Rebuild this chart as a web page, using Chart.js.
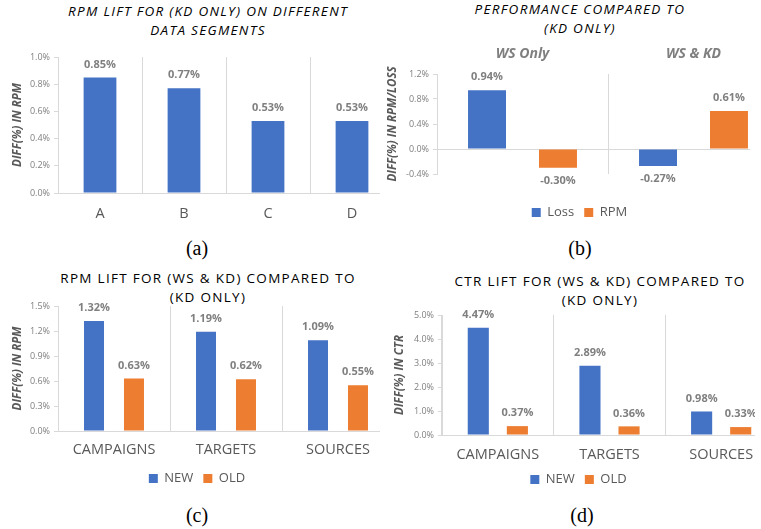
<!DOCTYPE html>
<html>
<head>
<meta charset="utf-8">
<script src="https://cdn.jsdelivr.net/npm/chart.js@4.4.1/dist/chart.umd.min.js"></script>
<style>
  html, body { margin: 0; padding: 0; overflow: hidden; background: #fff; }
  body { position: relative; width: 761px; height: 529px; font-family: "Open Sans", sans-serif; }
  .panel { position: absolute; overflow: hidden; }
  .panel canvas { position: absolute; left: 0; top: 0; }
  .title { position: absolute; width: 420px; text-align: center; font-size: 13.5px; line-height: 19px;
           letter-spacing: 1.3px; color: #000; white-space: nowrap; }
  .title.it { font-style: italic; }
  .cap { position: absolute; width: 60px; text-align: center; font-family: "Liberation Serif", serif;
         font-size: 20px; line-height: 24px; color: #000; }
</style>
</head>
<body>

<div class="title it" style="left:-2px; top:2px;">RPM LIFT FOR (KD ONLY) ON DIFFERENT<br>DATA SEGMENTS</div>
<div class="title it" style="left:370px; top:0px;">PERFORMANCE COMPARED TO<br>(KD ONLY)</div>
<div class="title" style="left:-2px; top:269px;">RPM LIFT FOR (WS &amp; KD) COMPARED TO<br>(KD ONLY)</div>
<div class="title" style="left:390px; top:272px;">CTR LIFT FOR (WS &amp; KD) COMPARED TO<br>(KD ONLY)</div>

<div class="panel" style="left:0; top:0; width:380px; height:240px;"><canvas id="chartA" width="400" height="233"></canvas></div>
<div class="panel" style="left:380px; top:0; width:370px; height:240px;"><canvas id="chartB" width="422" height="229"></canvas></div>
<div class="panel" style="left:0; top:260px; width:380px; height:240px;"><canvas id="chartC" width="408" height="235"></canvas></div>
<div class="panel" style="left:380px; top:260px; width:375px; height:240px;"><canvas id="chartD" width="406" height="236"></canvas></div>

<div class="cap" style="left:167px; top:236px;">(a)</div>
<div class="cap" style="left:550px; top:236px;">(b)</div>
<div class="cap" style="left:167px; top:503px;">(c)</div>
<div class="cap" style="left:552px; top:503px;">(d)</div>

<script>
// (a) RPM lift for (KD only) per data segment
const segLabels = ['A', 'B', 'C', 'D'];
const segRpmLift = [0.85, 0.77, 0.53, 0.53];

// (b) performance compared to (KD only)
const perfLabels = ['WS Only', 'WS & KD'];
const perfLoss = [0.94, -0.27];
const perfRpm = [-0.30, 0.61];

// (c) and (d) lifts for (WS & KD) per group
const groupLabels = ['CAMPAIGNS', 'TARGETS', 'SOURCES'];
const rpmNew = [1.32, 1.19, 1.09];
const rpmOld = [0.63, 0.62, 0.55];
const ctrNew = [4.47, 2.89, 0.98];
const ctrOld = [0.37, 0.36, 0.33];

const BLUE = '#4472C4';
const ORANGE = '#ED7D31';
const GRID = '#d9d9d9';
const TICK = '#7f7f7f';
const LABEL = '#595959';
const FONT = '"Open Sans", sans-serif';

// value labels above (or below, for negatives) each bar
const valueLabels = {
  id: 'valueLabels',
  afterDatasetsDraw(chart) {
    const ctx = chart.ctx;
    ctx.save();
    ctx.font = 'bold 11px ' + FONT;
    ctx.fillStyle = TICK;
    ctx.textAlign = 'center';
    ctx.textBaseline = 'middle';
    chart.data.datasets.forEach((ds, i) => {
      chart.getDatasetMeta(i).data.forEach((bar, j) => {
        const v = ds.data[j];
        const y = v >= 0 ? bar.y - 13 : bar.y + 13;
        ctx.fillText(v.toFixed(2) + '%', bar.x, y);
      });
    });
    ctx.restore();
  }
};

function yScale(o) {
  return {
    min: o.min,
    max: o.max,
    afterFit(s) { s.width = o.width; },
    ticks: {
      stepSize: o.step,
      callback: v => v.toFixed(1) + '%',
      color: TICK,
      font: { size: 9, family: FONT },
      padding: 4
    },
    grid: {
      drawOnChartArea: !!o.zeroLine,
      color: o.zeroLine ? (c => (c.tick && Math.abs(c.tick.value) < 1e-9 ? GRID : 'rgba(0,0,0,0)')) : GRID,
      tickColor: GRID,
      tickLength: 4
    },
    border: { color: GRID },
    title: {
      display: true,
      text: o.title,
      color: LABEL,
      font: { size: 11.5, weight: 'bold', style: 'italic', family: FONT },
      padding: o.titlePad
    }
  };
}

function xScale(o) {
  return {
    position: o.position || 'bottom',
    afterFit(s) { s.height = o.height; },
    ticks: {
      color: o.color || LABEL,
      font: Object.assign({ size: 14.5, family: FONT }, o.font || {}),
      padding: o.pad,
      maxRotation: 0
    },
    grid: { offset: true, drawTicks: false, color: GRID },
    border: { display: o.border !== false, color: GRID }
  };
}

function legendOpts(show) {
  return {
    display: show,
    position: 'bottom',
    labels: {
      boxWidth: 9,
      boxHeight: 9,
      color: LABEL,
      font: { size: 13, family: FONT },
      padding: 10
    }
  };
}

function baseOptions(padding, scales, showLegend) {
  return {
    responsive: false,
    animation: false,
    devicePixelRatio: 1,
    layout: { padding },
    scales,
    plugins: {
      legend: legendOpts(showLegend),
      tooltip: { enabled: false }
    }
  };
}

// (a)
new Chart(document.getElementById('chartA'), {
  type: 'bar',
  data: {
    labels: segLabels,
    datasets: [{ label: 'RPM', data: segRpmLift, backgroundColor: BLUE, barPercentage: 0.39, categoryPercentage: 1 }]
  },
  options: baseOptions({ top: 57, right: 6, left: 0, bottom: 0 }, {
    x: xScale({ height: 40, pad: 12 }),
    y: yScale({ min: 0, max: 1.0, step: 0.2, width: 58, title: 'DIFF(%) IN RPM', titlePad: 11 })
  }, false),
  plugins: [valueLabels]
});

// (b)
const optsB = baseOptions({ top: 20, right: 23, left: 0, bottom: 0 }, {
  x: xScale({ position: 'top', height: 54, pad: 12, border: false, color: TICK,
              font: { weight: 'bold', style: 'italic', size: 14 } }),
  xb: {
    type: 'category',
    position: 'bottom',
    afterFit(s) { s.height = 22; },
    ticks: { display: false },
    grid: { display: false },
    border: { display: false }
  },
  y: yScale({ min: -0.4, max: 1.2, step: 0.4, width: 57, title: 'DIFF(%) IN RPM/LOSS', titlePad: 6, zeroLine: true })
}, true);
new Chart(document.getElementById('chartB'), {
  type: 'bar',
  data: {
    labels: perfLabels,
    datasets: [
      { label: 'Loss', data: perfLoss, backgroundColor: BLUE, barPercentage: 0.535, categoryPercentage: 0.83 },
      { label: 'RPM', data: perfRpm, backgroundColor: ORANGE, barPercentage: 0.535, categoryPercentage: 0.83 }
    ]
  },
  options: optsB,
  plugins: [valueLabels]
});

// (c)
new Chart(document.getElementById('chartC'), {
  type: 'bar',
  data: {
    labels: groupLabels,
    datasets: [
      { label: 'NEW', data: rpmNew, backgroundColor: BLUE, barPercentage: 0.5, categoryPercentage: 0.714 },
      { label: 'OLD', data: rpmOld, backgroundColor: ORANGE, barPercentage: 0.5, categoryPercentage: 0.714 }
    ]
  },
  options: baseOptions({ top: 46, right: 14, left: 0, bottom: 0 }, {
    x: xScale({ height: 31, pad: 10 }),
    y: yScale({ min: 0, max: 1.5, step: 0.3, width: 58, title: 'DIFF(%) IN RPM', titlePad: 11 })
  }, true),
  plugins: [valueLabels]
});

// (d)
new Chart(document.getElementById('chartD'), {
  type: 'bar',
  data: {
    labels: groupLabels,
    datasets: [
      { label: 'NEW', data: ctrNew, backgroundColor: BLUE, barPercentage: 0.54, categoryPercentage: 0.7 },
      { label: 'OLD', data: ctrOld, backgroundColor: ORANGE, barPercentage: 0.54, categoryPercentage: 0.7 }
    ]
  },
  options: baseOptions({ top: 55, right: 9, left: 0, bottom: 0 }, {
    x: xScale({ height: 28, pad: 11 }),
    y: yScale({ min: 0, max: 5.0, step: 1.0, width: 62, title: 'DIFF(%) IN CTR', titlePad: 13 })
  }, true),
  plugins: [valueLabels]
});
</script>
</body>
</html>
